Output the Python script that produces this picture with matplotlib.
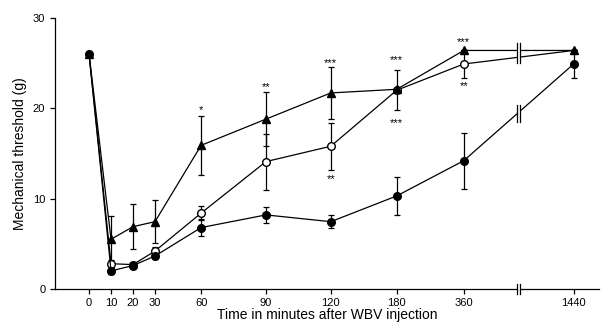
import numpy as np
import matplotlib
matplotlib.use("Agg")
import matplotlib.pyplot as plt

plt.rcParams['font.family'] = ['Liberation Sans', 'DejaVu Sans']

# time points (min) and where each one sits on the broken x axis
times = [0, 10, 20, 30, 60, 90, 120, 180, 360, 1440]
tick_labels = ['0', '10', '20', '30', '60', '90', '120', '180', '360', '1440']
slots = [0, 1, 2, 3, 5.1, 8.05, 11.0, 14.0, 17.05, 22.05]
break_slot = 19.55

# mechanical threshold (g)
tri = [26.0, 5.5, 6.9, 7.45, 15.9, 18.8, 21.7, 22.1, 26.4, 26.4]
tri_err = [0, 2.6, 2.5, 2.4, 3.3, 3.0, 2.9, 0, 0, 0]
opn = [26.0, 2.8, 2.7, 4.2, 8.4, 14.1, 15.8, 22.0, 24.9, 26.4]
opn_err = [0, 0.4, 0.3, 0.5, 0.8, 3.1, 2.6, 2.2, 1.5, 0]
fil = [26.0, 2.0, 2.6, 3.65, 6.8, 8.2, 7.45, 10.3, 14.2, 24.9]
fil_err = [0, 0.3, 0.3, 0.3, 0.9, 0.85, 0.75, 2.1, 3.1, 1.6]

# significance marks: (time, y, text)
stars = [(60, 19.8, '*'), (90, 22.3, '**'), (120, 25.0, '***'), (120, 12.2, '**'),
         (180, 25.3, '***'), (180, 18.4, '***'), (360, 27.3, '***'), (360, 22.5, '**')]

fig = plt.figure(figsize=(6.01, 3.26), dpi=100)
ax = fig.add_axes([0.0915, 0.1135, 0.905, 0.8315])

kw = dict(color='black', lw=0.9, elinewidth=0.9, capsize=2.5, capthick=0.9, ms=5.5, zorder=3)
# open circles hidden under the filled marks at 0 and 1440 in the original
ax.errorbar(slots, opn, yerr=opn_err, fmt='-o', mfc='white', mec='black',
            markevery=list(range(1, len(slots) - 1)), **kw)
ax.errorbar(slots, tri, yerr=tri_err, fmt='-^', mfc='black', mec='black', **kw)
ax.errorbar(slots, fil, yerr=fil_err, fmt='-o', mfc='black', mec='black', **kw)

for t, y, s in stars:
    ax.text(slots[times.index(t)], y, s, ha='center', va='center', fontsize=8)

# break marks on the lines and on the x axis
def brk(y0, y1):
    ax.fill_between([break_slot - 0.07, break_slot + 0.07], y0, y1, color='white', zorder=4, lw=0)
    for dx in (-0.08, 0.08):
        ax.plot([break_slot + dx] * 2, [y0, y1], color='black', lw=0.9, zorder=5, clip_on=False)

brk(25.0, 27.2)
brk(18.5, 20.4)
brk(-0.5, 0.5)

ax.set_xlim(-1.55, 23.2)
ax.set_ylim(0, 30)
ax.set_xticks(slots)
ax.set_xticklabels(tick_labels)
ax.set_yticks([0, 10, 20, 30])
for s in ('top', 'right'):
    ax.spines[s].set_visible(False)
ax.spines['left'].set_linewidth(0.9)
ax.spines['bottom'].set_linewidth(0.9)
ax.tick_params(direction='out', length=3.5, width=0.9, labelsize=8)
ax.tick_params(axis='x', pad=3)
ax.set_ylabel('Mechanical threshold (g)', fontsize=10)
ax.set_xlabel('Time in minutes after WBV injection', fontsize=10, labelpad=0)

fig.savefig('out.png', dpi=100)
